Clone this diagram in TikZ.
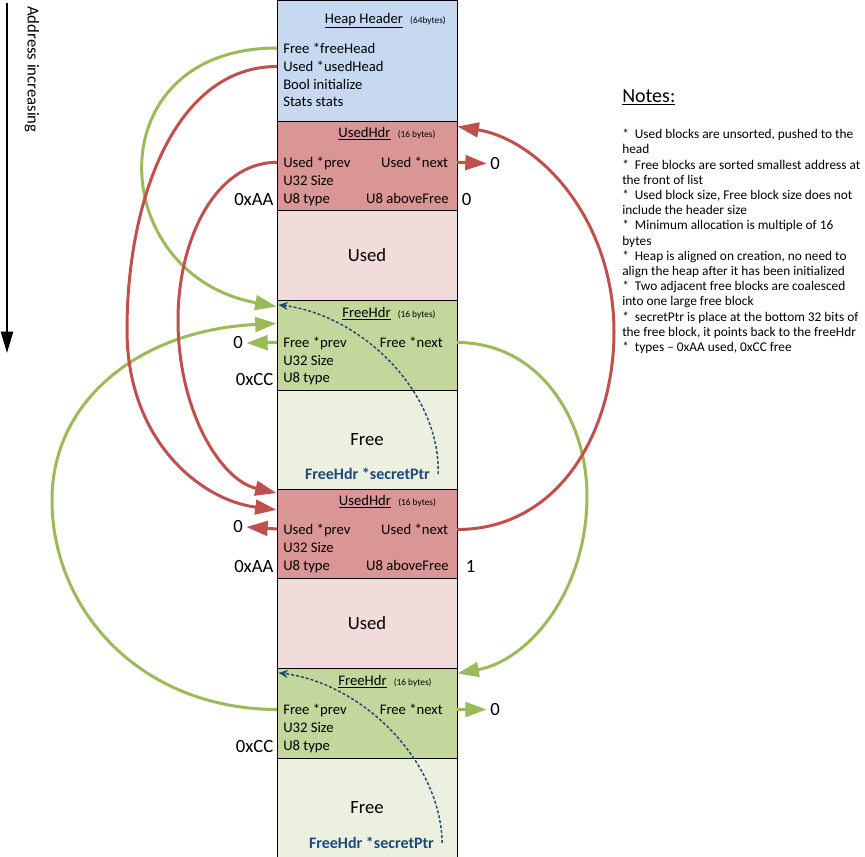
\documentclass[tikz,border=0pt]{standalone}
\usepackage{fontspec}
\setmainfont{Carlito}
\usetikzlibrary{arrows.meta}

\definecolor{hdrblue}{HTML}{C6D9F1}
\definecolor{usedhdr}{HTML}{D99694}
\definecolor{usedmem}{HTML}{F2DCDB}
\definecolor{freehdr}{HTML}{C3D69B}
\definecolor{freemem}{HTML}{EBF1DE}
\definecolor{lnkgreen}{HTML}{9BBB59}
\definecolor{lnkred}{HTML}{C0504D}
\definecolor{secblue}{HTML}{1F497D}

\tikzset{
    blk/.style={draw=black, line width=0.75pt, minimum width=135pt, inner sep=0pt},
    memtxt/.style={font=\fontsize{14}{16}\selectfont},
    fld/.style={font=\fontsize{11}{13}\selectfont, text height=9pt, text depth=1.5pt,
        inner xsep=4.5pt, inner ysep=0pt},
    ttl/.style={font=\fontsize{11}{13}\selectfont, inner sep=0pt, anchor=base},
    szn/.style={font=\fontsize{7}{8}\selectfont, inner sep=0pt, anchor=base west},
    val/.style={font=\fontsize{14}{16}\selectfont, inner sep=2.5pt},
    sec/.style={font=\fontsize{12}{14}\selectfont\bfseries, text=secblue, inner xsep=6pt},
    glink/.style={draw=lnkgreen, line width=2.25pt, -{Triangle[length=16pt,width=11pt]}},
    rlink/.style={draw=lnkred, line width=2.25pt, -{Triangle[length=16pt,width=11pt]}},
    slink/.style={draw=secblue, line width=1.1pt, dash pattern=on 2.25pt off 1.5pt,
        -{Stealth[length=7pt,width=6pt]}}
}

\begin{document}
\begin{tikzpicture}[x=0.75pt, y=-0.75pt]
\useasboundingbox (0,0) rectangle (865,857);

% address direction
\coordinate (addrTop) at (7,3);
\coordinate (addrBot) at (7,353);
\draw[line width=1.7pt, -{Triangle[length=16pt,width=9pt]}] (addrTop) -- (addrBot);
\node[rotate=-90, anchor=west, inner sep=0pt, font=\fontsize{12.5}{14}\selectfont]
    (addrT) at (32,6) {Address increasing};

% heap header
\node[blk, fill=hdrblue, minimum height=90.75pt] (hdrBox) at (367,60.5) {};
\node[ttl] (hT) at (364,23.3) {\underline{Heap Header}};
\node[szn] (hTs) at ([xshift=5pt]hT.base east) {(64bytes)};
\node[fld, anchor=west] (hFree) at (277,48) {Free *freeHead};
\node[fld, anchor=west] (hUsed) at (277,66.5) {Used *usedHead};
\node[fld, anchor=west] (hBool) at (277,84.3) {Bool initialize};
\node[fld, anchor=west] (hStats) at (277,101.7) {Stats stats};

% first used block
\node[blk, fill=usedhdr, minimum height=66.75pt] (u1Box) at (367,165.5) {};
\node[ttl] (u1T) at (364.5,137.3) {\underline{UsedHdr}};
\node[szn] (u1Ts) at ([xshift=5pt]u1T.base east) {(16 bytes)};
\node[fld, anchor=west] (u1Prev) at (277,162.3) {Used *prev};
\node[fld, anchor=east, inner xsep=6.5pt] (u1Next) at (457,162.3) {Used *next};
\node[fld, anchor=west] (u1Size) at (277,180) {U32 Size};
\node[fld, anchor=west] (u1Type) at (277,198) {U8 type};
\node[fld, anchor=east, inner xsep=6pt] (u1Above) at (457,198) {U8 aboveFree};
\node[val, anchor=east] (u1TypeV) at (277,200) {0xAA};
\node[val] (u1AboveV) at (466.5,200) {0};
\node[val] (u1NextV) at (495,163.5) {0};
\node[blk, fill=usedmem, minimum height=67.5pt, memtxt] (u1Mem) at (367,255) {Used};

% first free block
\node[blk, fill=freehdr, minimum height=67.5pt] (f1Box) at (367,345) {};
\node[ttl] (f1T) at (366.5,317.3) {\underline{FreeHdr}};
\node[szn] (f1Ts) at ([xshift=5pt]f1T.base east) {(16 bytes)};
\node[fld, anchor=west] (f1Prev) at (277,342.5) {Free *prev};
\node[fld, anchor=east, inner xsep=10.5pt] (f1Next) at (457,342.5) {Free *next};
\node[fld, anchor=west] (f1Size) at (277,360) {U32 Size};
\node[fld, anchor=west] (f1Type) at (277,377.7) {U8 type};
\node[val, anchor=east] (f1TypeV) at (277,379.3) {0xCC};
\node[val] (f1PrevV) at (238,343) {0};
\node[blk, fill=freemem, minimum height=74.25pt, memtxt] (f1Mem) at (367,439.5) {Free};
\node[sec] (f1Sec) at (367.5,474) {FreeHdr *secretPtr};

% second used block
\node[blk, fill=usedhdr, minimum height=66.75pt] (u2Box) at (367,533.5) {};
\node[ttl] (u2T) at (365,505.7) {\underline{UsedHdr}};
\node[szn] (u2Ts) at ([xshift=5pt]u2T.base east) {(16 bytes)};
\node[fld, anchor=west] (u2Prev) at (277,529) {Used *prev};
\node[fld, anchor=east, inner xsep=6.5pt] (u2Next) at (457,529.5) {Used *next};
\node[fld, anchor=west] (u2Size) at (277,547.7) {U32 Size};
\node[fld, anchor=west] (u2Type) at (277,565.7) {U8 type};
\node[fld, anchor=east, inner xsep=6pt] (u2Above) at (457,565.7) {U8 aboveFree};
\node[val, anchor=east] (u2TypeV) at (277,566.7) {0xAA};
\node[val] (u2AboveV) at (470.5,566.7) {1};
\node[val] (u2PrevV) at (238,527) {0};
\node[blk, fill=usedmem, minimum height=67.5pt, memtxt] (u2Mem) at (367,623) {Used};

% second free block
\node[blk, fill=freehdr, minimum height=67.5pt] (f2Box) at (367,713) {};
\node[ttl] (f2T) at (362.5,685.7) {\underline{FreeHdr}};
\node[szn] (f2Ts) at ([xshift=5pt]f2T.base east) {(16 bytes)};
\node[fld, anchor=west] (f2Prev) at (277,709.5) {Free *prev};
\node[fld, anchor=east, inner xsep=10.5pt] (f2Next) at (457,709.5) {Free *next};
\node[fld, anchor=west] (f2Size) at (277,727.7) {U32 Size};
\node[fld, anchor=west] (f2Type) at (277,745.7) {U8 type};
\node[val, anchor=east] (f2TypeV) at (277,746.7) {0xCC};
\node[val] (f2NextV) at (495,709.5) {0};
\node[blk, fill=freemem, minimum height=74.25pt, memtxt] (f2Mem) at (367,807.5) {Free};
\node[sec] (f2Sec) at (371.5,843) {FreeHdr *secretPtr};

% notes
\node[font=\fontsize{15}{18}\selectfont, anchor=base west, inner sep=0pt]
    (notesT) at (622,102) {\underline{Notes:}};
\node[font=\fontsize{10}{11.4}\selectfont, anchor=north west, align=left, inner sep=0pt]
    (notesB) at (622,129) {%
*\ \ Used blocks are unsorted, pushed to the\\
head\\
*\ \ Free blocks are sorted smallest address at\\
the front of list\\
*\ \ Used block size, Free block size does not\\
include the header size\\
*\ \ Minimum allocation is multiple of 16\\
bytes\\
*\ \ Heap is aligned on creation, no need to\\
align the heap after it has been initialized\\
*\ \ Two adjacent free blocks are coalesced\\
into one large free block\\
*\ \ secretPtr is place at the bottom 32 bits of\\
the free block, it points back to the freeHdr\\
*\ \ types -- 0xAA used, 0xCC free};

% free list links
\draw[glink] (hFree.west) .. controls (95,48) and (105,275) ..
    ([yshift=-5.25pt]f1Box.north west);
\draw[glink] (f1Next.east) .. controls (540,342.5) and (587,420) .. (587,496)
    .. controls (587,590) and (530,660) .. ([yshift=-4.5pt]f2Box.north east);
\draw[glink] (f2Prev.west) .. controls (140,709) and (52,610) .. (52,500)
    .. controls (52,400) and (140,330) .. ([yshift=-18pt]f1Box.north west);
\draw[glink] (f1Prev.west) -- (f1PrevV.east);
\draw[glink] (f2Next.east) -- (f2NextV.west);

% used list links
\draw[rlink] (hUsed.west) .. controls (175,66.5) and (127,200) .. (127,330)
    .. controls (127,440) and (200,500) .. ([yshift=-16pt]u2Box.north west);
\draw[rlink] (u1Prev.west) .. controls (215,162.3) and (178,240) .. (178,320)
    .. controls (178,410) and (220,480) .. ([yshift=-3.4pt]u2Box.north west);
\draw[rlink] (u2Next.east) .. controls (560,529.5) and (614,430) .. (614,332)
    .. controls (614,220) and (540,140) .. ([yshift=-4.5pt]u1Box.north east);
\draw[rlink] (u1Next.east) -- (u1NextV.west);
\draw[rlink] (u2Prev.west) -- (u2PrevV.east);

% secret pointers
\draw[slink] (f1Sec.east) .. controls (440,390) and (360,315) ..
    ([xshift=1.5pt,yshift=-4pt]f1Box.north west);
\draw[slink] (f2Sec.east) .. controls (440,758) and (360,683) ..
    ([xshift=1.5pt,yshift=-4pt]f2Box.north west);

\end{tikzpicture}
\end{document}
